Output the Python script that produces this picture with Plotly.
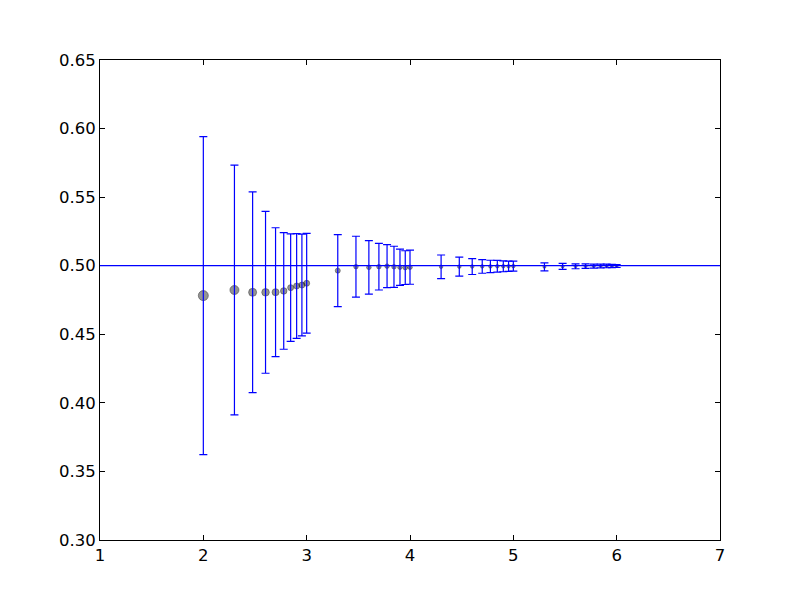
import plotly.graph_objects as go

# x positions (log10 of sample size)
x_vals = [2.0, 2.301, 2.477, 2.602, 2.699, 2.778, 2.845, 2.903, 2.954, 3.0,
          3.301, 3.477, 3.602, 3.699, 3.778, 3.845, 3.903, 3.954, 4.0,
          4.301, 4.477, 4.602, 4.699, 4.778, 4.845, 4.903, 4.954, 5.0,
          5.301, 5.477, 5.602, 5.699, 5.778, 5.845, 5.903, 5.954, 6.0]

means = [0.4782, 0.4823, 0.4806, 0.4806, 0.4807, 0.4816, 0.4840, 0.4852, 0.4859, 0.4872,
         0.4964, 0.4993, 0.4988, 0.4993, 0.4997, 0.4992, 0.4989, 0.4986, 0.4989,
         0.4992, 0.4993, 0.4994, 0.4995, 0.4995, 0.4996, 0.4996, 0.4996, 0.4997,
         0.4992, 0.4995, 0.4996, 0.4997, 0.4997, 0.4998, 0.4998, 0.4998, 0.4998]

errors = [0.1160, 0.0910, 0.0732, 0.0590, 0.0470, 0.0425, 0.0392, 0.0382, 0.0371, 0.0364,
          0.0262, 0.0222, 0.0195, 0.0170, 0.0157, 0.0150, 0.0132, 0.0123, 0.0124,
          0.0086, 0.0069, 0.0058, 0.0050, 0.0045, 0.0043, 0.0040, 0.0038, 0.0036,
          0.0029, 0.0022, 0.0018, 0.0016, 0.0015, 0.0014, 0.0013, 0.0012, 0.0011]

true_value = 0.5

x_ticks = [1, 2, 3, 4, 5, 6, 7]
y_ticks = [0.30, 0.35, 0.40, 0.45, 0.50, 0.55, 0.60, 0.65]
y_tick_labels = ["0.30", "0.35", "0.40", "0.45", "0.50", "0.55", "0.60", "0.65"]

# marker diameters (style)
marker_sizes = [10, 9, 8, 7.5, 7, 6.5, 6, 6, 6, 6,
                5, 4.5, 4.5, 4.5, 4.5, 4.5, 4.5, 4.5, 4.5,
                3.5, 3.5, 3.5, 3.5, 3.5, 3.5, 3.5, 3.5, 3.5,
                3, 3, 3, 3, 3, 3, 3, 3, 3]

fig = go.Figure()

fig.add_trace(go.Scatter(
    x=x_vals, y=means, mode="markers",
    marker=dict(size=marker_sizes, color="rgba(0,0,0,0.6)",
                line=dict(color="rgba(0,0,0,0.6)", width=1)),
    showlegend=False, hoverinfo="skip"))

fig.add_trace(go.Scatter(
    x=x_vals, y=means, mode="markers",
    marker=dict(size=1, opacity=0),
    error_y=dict(type="data", array=errors, visible=True,
                 color="#0000ff", thickness=1.2, width=4),
    showlegend=False))

fig.add_hline(y=true_value, line=dict(color="#0000ff", width=1.2))

axis_common = dict(showgrid=False, zeroline=False, showline=True,
                   linecolor="black", linewidth=1, mirror="ticks",
                   ticks="inside", ticklen=5, tickwidth=1, tickcolor="black",
                   tickfont=dict(family="DejaVu Sans", size=16.5, color="black"))

fig.update_xaxes(range=[1, 7], tickvals=x_ticks, ticktext=[str(v) for v in x_ticks],
                 **axis_common)
fig.update_yaxes(range=[0.30, 0.65], tickvals=y_ticks, ticktext=y_tick_labels,
                 **axis_common)

fig.update_layout(
    width=800, height=600,
    margin=dict(l=92, r=88, t=52, b=68),
    paper_bgcolor="white", plot_bgcolor="white",
)

fig.write_html("out.html")
